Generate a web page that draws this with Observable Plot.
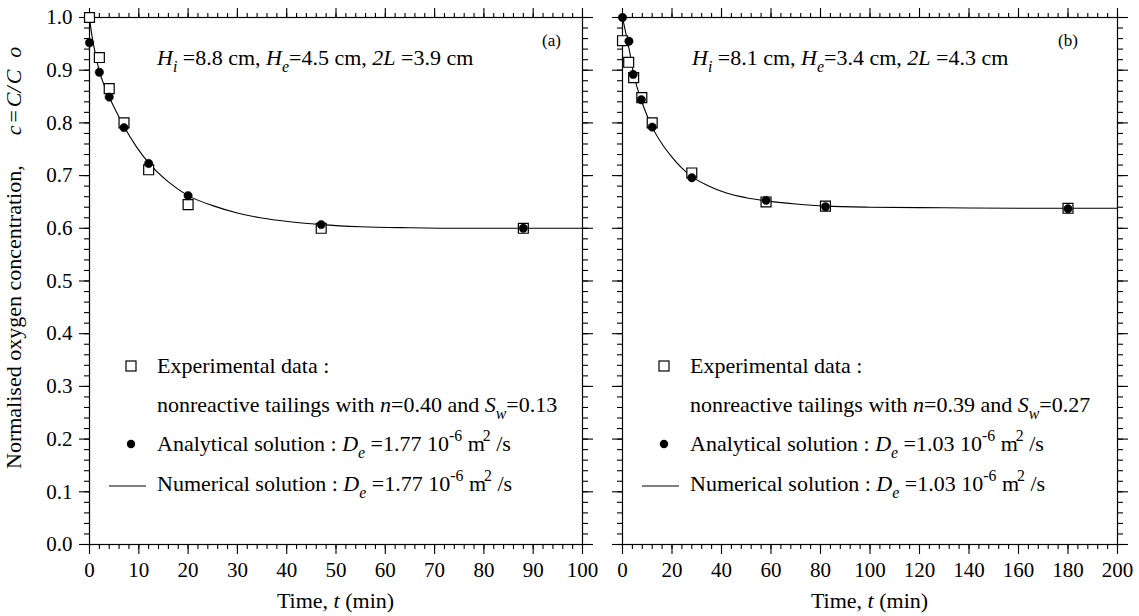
<!DOCTYPE html>
<html><head><meta charset="utf-8">
<script src="https://cdn.jsdelivr.net/npm/d3@7"></script>
<script src="https://cdn.jsdelivr.net/npm/@observablehq/plot@0.6"></script>
<style>
html,body{margin:0;padding:0;background:#fff;}
#wrap{position:relative;width:1139px;height:616px;overflow:hidden;background:#fff;}
.panel{position:absolute;top:0;}
#wrap svg, #wrap svg text, #wrap svg tspan{font-family:"Liberation Serif","Times New Roman",serif !important;}
</style></head><body><div id="wrap"></div>
<script>
// ---- Panel (a) data ----
const timeA = [0, 2, 4, 7, 12, 20, 47, 88];
const expA  = [1.000, 0.924, 0.865, 0.800, 0.711, 0.645, 0.600, 0.600];
const anaA  = [0.952, 0.896, 0.849, 0.791, 0.723, 0.662, 0.607, 0.600];
const numTimeA = [0, 0.5, 1, 2, 3, 4, 5.5, 7, 9.5, 12, 16, 20, 25, 30, 36, 42, 47, 55, 65, 75, 88, 100];
const numA     = [1.000, 0.965, 0.940, 0.898, 0.871, 0.849, 0.820, 0.793, 0.755, 0.724, 0.688, 0.662, 0.643, 0.629, 0.618, 0.611, 0.607, 0.603, 0.601, 0.600, 0.600, 0.600];
// ---- Panel (b) data ----
const timeExpB = [0, 2.5, 4.5, 7.8, 12, 28, 58, 82, 180];
const expB     = [0.956, 0.915, 0.886, 0.848, 0.800, 0.705, 0.650, 0.642, 0.638];
const timeAnaB = [0, 2.6, 4.3, 7.6, 12, 28, 58, 82, 180];
const anaB     = [1.000, 0.955, 0.892, 0.844, 0.792, 0.696, 0.653, 0.641, 0.637];
const numTimeB = [0, 1, 2, 3, 4.3, 6, 7.6, 10, 12, 16, 20, 24, 28, 35, 42, 50, 58, 70, 82, 100, 130, 160, 180, 200];
const numB     = [1.000, 0.978, 0.955, 0.932, 0.897, 0.866, 0.843, 0.813, 0.792, 0.760, 0.735, 0.714, 0.698, 0.680, 0.667, 0.658, 0.652, 0.646, 0.642, 0.640, 0.639, 0.638, 0.638, 0.638];
// ---- ticks ----
const yMajor = d3.range(0, 1.0001, 0.1).map(v => +v.toFixed(2));
const yMinor = d3.range(0, 1.0001, 0.02).map(v => +v.toFixed(2));
const xMajorA = d3.range(0, 101, 10), xMinorA = d3.range(0, 101, 2);
const xMajorB = d3.range(0, 201, 20), xMinorB = d3.range(0, 201, 4);

const FONT = "Liberation Serif, Times New Roman, serif";

function rich(g, x, y, parts, size, attrs = {}) {
  const t = g.append("text").attr("x", x).attr("y", y)
    .attr("font-size", size).attr("fill", "black").attr("text-anchor", "start");
  for (const k in attrs) t.attr(k, attrs[k]);
  let shift = 0;
  for (const p of parts) {
    const s = t.append("tspan").text(p.t);
    const target = p.s === "sub" ? 0.32 : p.s === "sup" ? -0.45 : 0;
    const fs = p.s ? 0.72 : 1;
    if (target !== shift) s.attr("dy", ((target - shift) * size).toFixed(1));
    shift = target;
    if (p.s) s.attr("font-size", size * fs);
    if (p.i) s.attr("font-style", "italic");
    if (p.dx) s.attr("dx", p.dx);
  }
  return t;
}

function makePanel(cfg) {
  const exp = cfg.expT.map((t, i) => ({t, v: cfg.exp[i]}));
  const ana = cfg.anaT.map((t, i) => ({t, v: cfg.ana[i]}));
  const num = cfg.numT.map((t, i) => ({t, v: cfg.num[i]}));
  const tickOpts = {tickSize: 10, stroke: "black", strokeWidth: 1.1, label: null};
  const minOpts = {tickSize: 5, stroke: "black", strokeWidth: 1.1, label: null, tickFormat: () => ""};
  const plot = Plot.plot({
    width: cfg.width, height: 616,
    marginLeft: cfg.ml, marginRight: cfg.mr, marginTop: 17, marginBottom: 72,
    x: {domain: [0, cfg.xmax]},
    y: {domain: [0, 1]},
    style: {fontFamily: FONT, fontSize: "21px", background: "white", color: "black", overflow: "visible"},
    marks: [
      Plot.axisX({...tickOpts, anchor: "bottom", ticks: cfg.xMajor, tickPadding: 8, tickFormat: d => String(d), fontSize: 21}),
      Plot.axisX({...minOpts, anchor: "bottom", ticks: cfg.xMinor}),
      Plot.axisX({...tickOpts, anchor: "top", ticks: cfg.xMajor, tickFormat: () => ""}),
      Plot.axisX({...minOpts, anchor: "top", ticks: cfg.xMinor}),
      Plot.axisY({...tickOpts, anchor: "left", ticks: yMajor, tickPadding: 7,
        tickFormat: cfg.yLabels ? d3.format(".1f") : () => "", fontSize: 21}),
      Plot.axisY({...minOpts, anchor: "left", ticks: yMinor}),
      Plot.axisY({...tickOpts, anchor: "right", ticks: yMajor, tickFormat: () => ""}),
      Plot.axisY({...minOpts, anchor: "right", ticks: yMinor}),
      Plot.frame({stroke: "black", strokeWidth: 1.2}),
      Plot.line(num, {x: "t", y: "v", curve: "monotone-x", stroke: "black", strokeWidth: 1.1}),
      Plot.dot(exp, {x: "t", y: "v", symbol: "square", r: 5.6, fill: "white", stroke: "black", strokeWidth: 1.2}),
      Plot.dot(ana, {x: "t", y: "v", symbol: "circle", r: 4.2, fill: "black", stroke: "black", strokeWidth: 0.5})
    ]
  });
  const svg = d3.select(plot);
  const g = svg.append("g").attr("text-anchor", "start");
  const fl = cfg.ml, fr = cfg.width - cfg.mr;
  // annotation
  rich(g, fl + cfg.annX, 65, [
    {t: "H", i: true}, {t: "i", i: true, s: "sub"}, {t: " =" + cfg.hi + " cm, "},
    {t: "H", i: true}, {t: "e", i: true, s: "sub"}, {t: "=" + cfg.he + " cm, "},
    {t: "2L", i: true}, {t: " =" + cfg.L + " cm"}
  ], 22);
  rich(g, fl + cfg.tagX, 46, [{t: cfg.tag}], 17);
  // legend
  const sx = fl + 42, tx = fl + 68;
  g.append("rect").attr("x", sx - 5).attr("y", 361).attr("width", 10).attr("height", 10)
    .attr("fill", "white").attr("stroke", "black").attr("stroke-width", 1.2);
  g.append("circle").attr("cx", sx).attr("cy", 444).attr("r", 4.2).attr("fill", "black");
  g.append("line").attr("x1", fl + 20).attr("x2", fl + 57).attr("y1", 486).attr("y2", 486)
    .attr("stroke", "black").attr("stroke-width", 1.1);
  rich(g, tx, 373, [{t: "Experimental data :"}], 22);
  rich(g, tx, 412, [
    {t: "nonreactive tailings with "}, {t: "n", i: true}, {t: "=" + cfg.n + " and "},
    {t: "S", i: true}, {t: "w", i: true, s: "sub"}, {t: "=" + cfg.sw}
  ], 22);
  const de = (label, y) => rich(g, tx, y, [
    {t: label + " : "}, {t: "D", i: true}, {t: "e", i: true, s: "sub"},
    {t: " =" + cfg.de + " 10"}, {t: "-6", s: "sup"}, {t: " m"}, {t: "2", s: "sup", dx: -2}, {t: " /s"}
  ], 22);
  de("Analytical solution", 451);
  de("Numerical solution", 491);
  // x axis title
  rich(g, (fl + fr) / 2, 608, [{t: "Time, "}, {t: "t", i: true}, {t: " (min)"}], 22, {"text-anchor": "middle"});
  if (cfg.yLabels) {
    rich(g, 21, 469, [
      {t: "Normalised oxygen concentration,"},
      {t: "c", i: true, dx: 30}, {t: "=", dx: 3}, {t: "C", i: true, dx: 3}, {t: "/", i: true}, {t: "C", i: true, dx: 2},
      {t: "o", i: true, dx: 12}
    ], 22, {transform: "rotate(-90,21,469)"});
  }
  const div = document.createElement("div");
  div.className = "panel";
  div.style.left = cfg.left + "px";
  div.appendChild(plot);
  document.getElementById("wrap").appendChild(div);
}

makePanel({left: 0, width: 600, ml: 89, mr: 18, xmax: 100, xMajor: xMajorA, xMinor: xMinorA,
  expT: timeA, exp: expA, anaT: timeA, ana: anaA, numT: numTimeA, num: numA, yLabels: true,
  hi: "8.8", he: "4.5", L: "3.9", tag: "(a)", annX: 68, tagX: 453,
  n: "0.40", sw: "0.13", de: "1.77"});
makePanel({left: 600, width: 539, ml: 22, mr: 22, xmax: 200, xMajor: xMajorB, xMinor: xMinorB,
  expT: timeExpB, exp: expB, anaT: timeAnaB, ana: anaB, numT: numTimeB, num: numB, yLabels: false,
  hi: "8.1", he: "3.4", L: "4.3", tag: "(b)", annX: 70, tagX: 436,
  n: "0.39", sw: "0.27", de: "1.03"});
</script>
</body></html>
